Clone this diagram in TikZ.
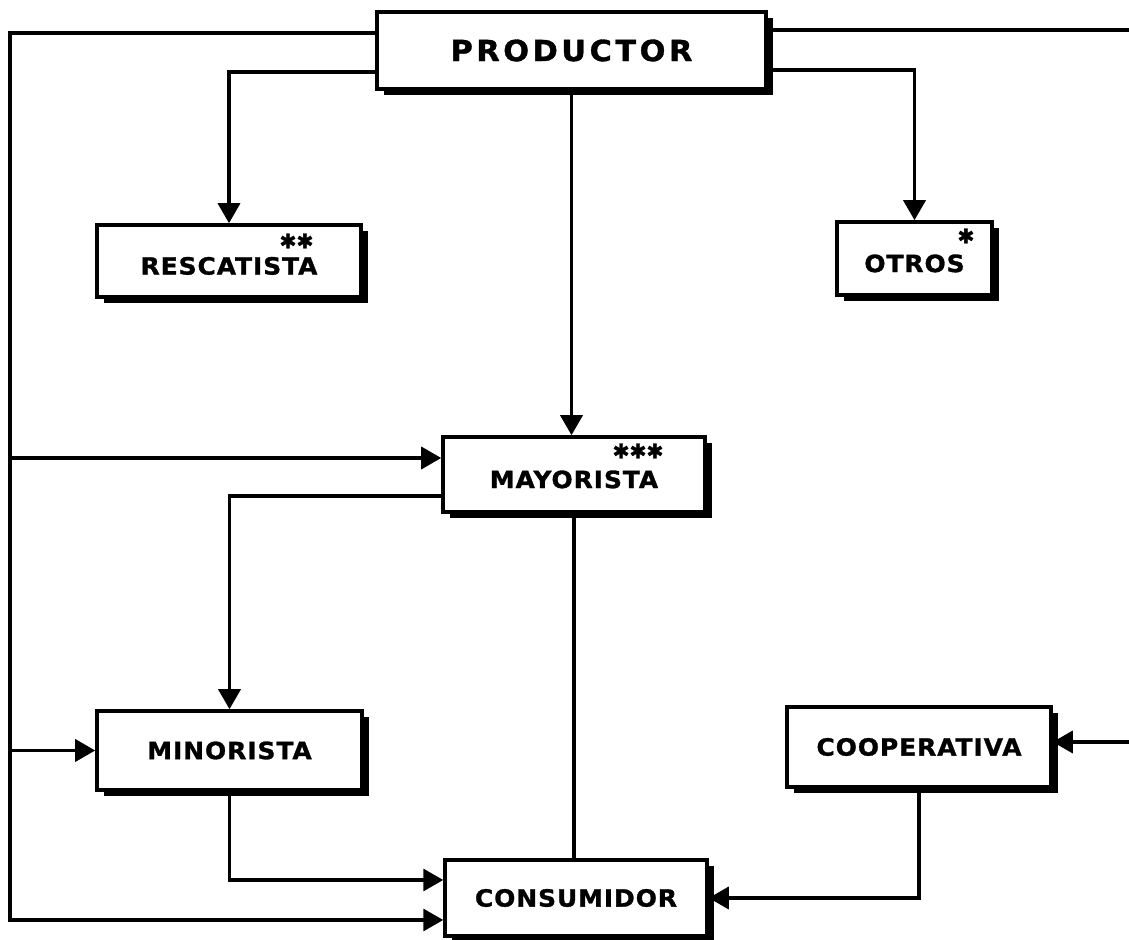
\documentclass[tikz,border=0pt]{standalone}
\usepackage{fontspec}
\usepackage{tikz}
\usetikzlibrary{positioning,calc,arrows.meta,shadows}
\newfontfamily\boxfont[FakeStretch=1.05,FakeBold=1.2,LetterSpace=4]{DejaVu Sans}
\newfontfamily\starfont[FakeBold=1.5]{DejaVu Sans}

\begin{document}
\begin{tikzpicture}[
    chbox/.style={draw, line width=2pt, fill=white, inner sep=0pt,
      drop shadow={shadow xshift=0.13cm, shadow yshift=-0.12cm, opacity=1, fill=black},
      font=\boxfont\bfseries\fontsize{13.5}{15}\selectfont},
    link/.style={line width=2pt},
    arr/.style={line width=2pt, -{Triangle[length=0.4cm, width=0.44cm]}},
    stars/.style={inner sep=0pt, anchor=north east, font=\starfont\bfseries\fontsize{11.5}{12}\selectfont}
  ]
  \useasboundingbox (0,0) rectangle (22.58,18.8);

  % Boxes
  \node[chbox, minimum width=7.78cm, minimum height=1.54cm,
    font=\boxfont\bfseries\fontsize{16.5}{18}\selectfont\addfontfeature{LetterSpace=12}] (prod) at (11.43,17.79) {PRODUCTOR};
  \node[chbox, minimum width=5.28cm, minimum height=1.44cm, text height=0.55cm] (resc) at (4.58,13.58) {RESCATISTA};
  \node[chbox, minimum width=3.1cm, minimum height=1.46cm, text height=0.55cm] (otros) at (18.29,13.63) {OTROS};
  \node[chbox, minimum width=5.24cm, minimum height=1.5cm, text height=0.55cm] (mayo) at (11.48,9.31) {MAYORISTA};
  \node[chbox, minimum width=5.3cm, minimum height=1.58cm] (mino) at (4.59,3.79) {MINORISTA};
  \node[chbox, minimum width=5.28cm, minimum height=1.6cm] (coop) at (18.38,3.86) {COOPERATIVA};
  \node[chbox, minimum width=5.24cm, minimum height=1.52cm] (cons) at (11.52,0.84) {CONSUMIDOR};

  % Asterisks
  \node[stars] (rescstar) at ([xshift=-0.98cm, yshift=-0.2cm]resc.north east) {✱✱};
  \node[stars] (otrosstar) at ([xshift=-0.38cm, yshift=-0.16cm]otros.north east) {✱};
  \node[stars] (mayostar) at ([xshift=-0.86cm, yshift=-0.16cm]mayo.north east) {✱✱✱};

  % Outer lines
  \coordinate (lft) at (0.2,0);
  \coordinate (rgt) at (23.0,0);
  \draw[arr] ([yshift=0.35cm]prod.west) -- ([yshift=0.35cm]prod.west -| lft) |- ([yshift=-0.44cm]cons.west);
  \draw[arr] ([yshift=0.33cm]mayo.west -| lft) -- ([yshift=0.33cm]mayo.west);
  \draw[arr] (mino.west -| lft) -- (mino.west);
  \draw[arr] ([yshift=0.41cm]prod.east) -- ([yshift=0.41cm]prod.east -| rgt) |- ([yshift=0.1cm]coop.east);

  % Inner lines
  \draw[arr] ([yshift=-0.43cm]prod.west) -| (resc.north);
  \draw[arr] ([yshift=-0.39cm]prod.east) -| (otros.north);
  \draw[arr] (prod.south) -- (prod.south |- mayo.north);
  \draw[arr] ([yshift=-0.43cm]mayo.west) -| (mino.north);
  \draw[link] (mayo.south) -- (mayo.south |- cons.north);
  \draw[arr] (mino.south) |- ([yshift=0.36cm]cons.west);
  \draw[arr] (coop.south) |- (cons.east);
\end{tikzpicture}
\end{document}
